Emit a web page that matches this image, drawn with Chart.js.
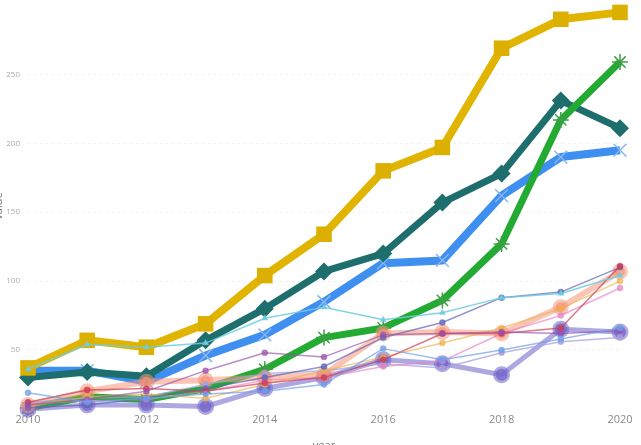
<!DOCTYPE html>
<html>
<head>
<meta charset="utf-8">
<script src="https://cdn.jsdelivr.net/npm/chart.js@4.4.0/dist/chart.umd.min.js"></script>
<style>
    html, body { margin: 0; padding: 0; overflow: hidden; background: #fff; width: 641px; height: 445px; }
    #wrap { position: absolute; left: -8px; top: 0; width: 652px; height: 452px; filter: blur(0.4px); }
</style>
</head>
<body>
<div id="wrap"><canvas id="grafico"></canvas></div>
<script>
// Datos
const years = [2010, 2011, 2012, 2013, 2014, 2015, 2016, 2017, 2018, 2019, 2020];
const xTicks = [2010, 2012, 2014, 2016, 2018, 2020];
const yTicks = [50, 100, 150, 200, 250];

// series gruesas
const serieOro   = [37, 57, 52, 69, 104, 134, 180, 197, 269, 290, 295];
const serieTeal  = [30, 34, 31, 57, 80, 107, 120, 157, 178, 231, 211];
const serieAzul  = [35, 35, 27, 46, 61, 85, 113, 115, 162, 190, 195];
const serieVerde = [8, 16, 14, 22, 36, 59, 66, 86, 127, 217, 259];

// series finas / semitransparentes
const serieCian     = [36, 54, 52, 55, 73, 81, 72, 77, 88, 91, 104];
const serieCeleste  = [19, 12, 15, 18, 20, 25, 51, 43, 50, 58, 66];
const serieMorado   = [10, 14, 20, 35, 48, 45, 61, 62, 63, 62, 64];
const serieCarmesi  = [12, 21, 22, 20, 26, 30, 43, 62, 62, 66, 111];
const serieMelocoton = [10, 20, 27, 28, 30, 32, 62, 63, 62, 81, 107];
const seriePizarra  = [8, 10, 15, 22, 30, 38, 59, 70, 88, 92, 110];
const serieNaranja  = [9, 16, 18, 15, 25, 35, 45, 55, 66, 80, 100];
const serieRosa     = [11, 13, 14, 20, 28, 30, 38, 42, 62, 75, 95];
const serieLila     = [7, 10, 10, 9, 22, 30, 43, 40, 32, 65, 63];
const serieLavanda  = [12, 15, 16, 25, 33, 35, 40, 37, 48, 56, 59];

const toXY = vals => vals.map((v, i) => ({ x: years[i], y: v }));

function fina(vals, color, estilo) {
    return {
        data: toXY(vals),
        borderColor: color,
        backgroundColor: color,
        borderWidth: 1.5,
        pointRadius: 2.5,
        pointStyle: estilo || 'circle',
        clip: false
    };
}

const datasets = [
    fina(serieCian, 'rgba(110,205,225,0.85)', 'triangle'),
    fina(serieCeleste, 'rgba(110,160,235,0.7)'),
    fina(serieMorado, 'rgba(150,80,170,0.65)'),
    fina(serieCarmesi, 'rgba(205,60,85,0.7)'),
    fina(seriePizarra, 'rgba(95,100,185,0.7)'),
    fina(serieNaranja, 'rgba(240,175,70,0.65)'),
    fina(serieRosa, 'rgba(230,130,190,0.65)'),
    fina(serieLavanda, 'rgba(170,160,220,0.75)'),
    {
        data: toXY(serieMelocoton),
        borderColor: 'rgba(245,150,120,0.55)',
        backgroundColor: 'rgba(245,150,120,0.7)',
        borderWidth: 6,
        pointRadius: 5,
        clip: false
    },
    {
        data: toXY(serieLila),
        borderColor: 'rgba(120,110,205,0.6)',
        backgroundColor: 'rgba(115,95,200,0.8)',
        borderWidth: 5,
        pointRadius: 6,
        clip: false
    },
    {
        data: toXY(serieVerde),
        borderColor: '#22aa33',
        backgroundColor: '#22aa33',
        pointBorderColor: '#3d9e45',
        borderWidth: 7,
        pointStyle: 'star',
        pointRadius: 8,
        pointBorderWidth: 1.5,
        clip: false
    },
    {
        data: toXY(serieOro),
        borderColor: '#e0b400',
        backgroundColor: '#dcb000',
        borderWidth: 8,
        pointStyle: 'rect',
        pointRadius: 11,
        pointBorderWidth: 0,
        clip: false
    },
    {
        data: toXY(serieTeal),
        borderColor: '#1d6e6c',
        backgroundColor: '#1d6e6c',
        borderWidth: 7,
        pointStyle: 'rectRot',
        pointRadius: 9,
        pointBorderWidth: 0,
        clip: false
    },
    {
        data: toXY(serieAzul),
        borderColor: '#3f8ff0',
        backgroundColor: '#3f8ff0',
        pointBorderColor: '#86b6f0',
        borderWidth: 8,
        pointStyle: 'crossRot',
        pointRadius: 9,
        pointBorderWidth: 1.5,
        clip: false
    }
];

const ctx = document.getElementById('grafico');
new Chart(ctx, {
    type: 'line',
    data: { datasets },
    options: {
        responsive: true,
        maintainAspectRatio: false,
        animation: false,
        layout: { autoPadding: false, padding: { left: 0, right: 24, top: 0, bottom: 0 } },
        plugins: { legend: { display: false }, tooltip: { enabled: false } },
        elements: { line: { tension: 0, borderJoinStyle: 'round' } },
        scales: {
            x: {
                type: 'linear',
                min: 2010,
                max: 2020,
                afterBuildTicks: s => { s.ticks = xTicks.map(v => ({ value: v })); },
                afterFit: s => { s.height = 40; },
                grid: { display: false, drawTicks: false },
                border: { display: false },
                ticks: {
                    color: '#8a8a8a',
                    font: { family: 'Open Sans', size: 11 },
                    padding: 1,
                    maxRotation: 0,
                    callback: v => String(v)
                },
                title: {
                    display: true,
                    text: 'year',
                    color: '#777',
                    font: { family: 'Open Sans', size: 11 },
                    padding: { top: 0, bottom: 0 }
                }
            },
            y: {
                min: 5,
                max: 304,
                afterBuildTicks: s => { s.ticks = yTicks.map(v => ({ value: v })); },
                afterFit: s => { s.width = 36; s.paddingTop = 0; s.paddingBottom = 0; },
                grid: { color: '#eeeeee', lineWidth: 1, drawTicks: false },
                border: { display: false, dash: [2, 4] },
                ticks: {
                    color: '#aaaaaa',
                    font: { family: 'Open Sans', size: 8 },
                    padding: 8
                },
                title: {
                    display: true,
                    text: 'value',
                    color: '#777',
                    font: { family: 'Open Sans', size: 11 },
                    padding: 0
                }
            }
        }
    }
});
</script>
</body>
</html>
